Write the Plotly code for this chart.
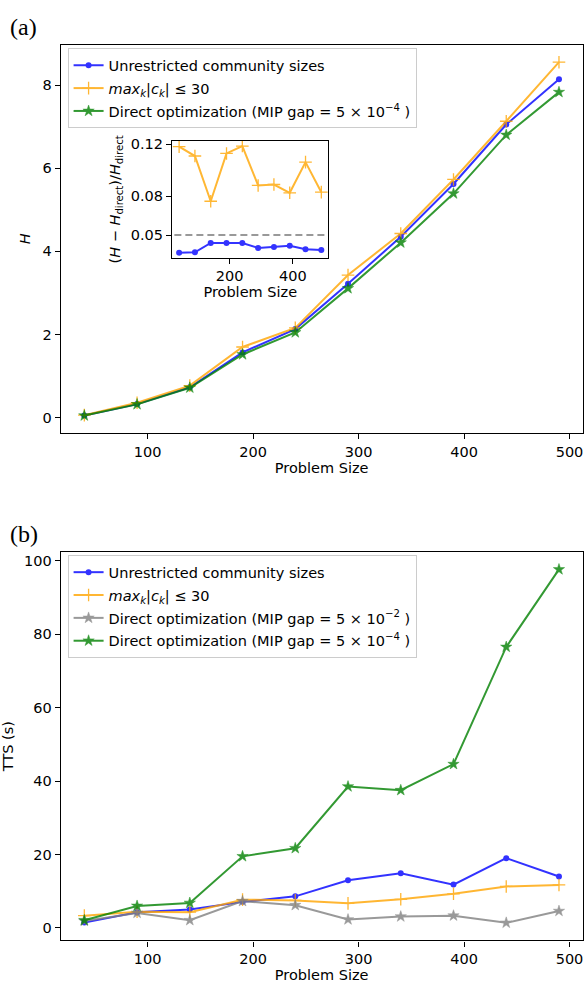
import plotly.graph_objects as go

# ---------------- data ----------------
sizes = [40, 90, 140, 190, 240, 290, 340, 390, 440, 490]

H_unrestricted = [0.05, 0.33, 0.73, 1.57, 2.13, 3.22, 4.35, 5.62, 7.05, 8.14]
H_max30 = [0.06, 0.36, 0.77, 1.70, 2.16, 3.43, 4.43, 5.73, 7.13, 8.55]
H_direct = [0.05, 0.32, 0.72, 1.52, 2.05, 3.11, 4.21, 5.39, 6.80, 7.83]

rel_unrestricted = [0.0364, 0.0367, 0.0439, 0.0439, 0.0439, 0.0400, 0.0408, 0.0418, 0.0390, 0.0385]
rel_max30 = [0.1182, 0.1110, 0.0761, 0.1130, 0.1187, 0.0883, 0.0890, 0.0826, 0.1063, 0.0831]
gap_threshold = 0.05

tts_unrestricted = [1.45, 4.3, 5.0, 7.1, 8.6, 13.0, 14.9, 11.8, 19.0, 14.0]
tts_max30 = [3.35, 4.4, 4.3, 7.7, 7.5, 6.7, 7.8, 9.3, 11.3, 11.7]
tts_direct_gap2 = [1.9, 4.1, 2.1, 7.3, 6.2, 2.3, 3.1, 3.35, 1.4, 4.6]
tts_direct_gap4 = [2.1, 6.0, 6.8, 19.5, 21.7, 38.5, 37.5, 44.6, 76.5, 97.6]

x_ticks = [100, 200, 300, 400, 500]
h_ticks = [0, 2, 4, 6, 8]
tts_ticks = [0, 20, 40, 60, 80, 100]
inset_x_ticks = [200, 400]
inset_y_ticks = [0.05, 0.08, 0.12]
inset_y_labels = ["0.05", "0.08", "0.12"]

name_unres = "Unrestricted community sizes"
name_max30 = "<i>max</i><sub><i>k</i></sub>|<i>c</i><sub><i>k</i></sub>| ≤ 30"
name_gap2 = "Direct optimization (MIP gap = 5 × 10<sup>−2</sup> )"
name_gap4 = "Direct optimization (MIP gap = 5 × 10<sup>−4</sup> )"

# ---------------- style ----------------
FONT = "DejaVu Sans"
FS = 14.5
W, Hh = 586, 984
BLUE, ORANGE, GRAY, GREEN = "#0000ff", "#ffa500", "#808080", "#008000"
OP = 0.8
LW = 2.0


def style(color, kind):
    if kind == "dot":
        return dict(line=dict(color=color, width=LW),
                    marker=dict(symbol="circle", size=6, color=color))
    if kind == "plus":
        return dict(line=dict(color=color, width=LW),
                    marker=dict(symbol="cross-thin", size=9, color=color,
                                line=dict(color=color, width=1.3)))
    return dict(line=dict(color=color, width=LW),
                marker=dict(symbol="star", size=8.5, color=color,
                            line=dict(color=color, width=0.5)))


fig = go.Figure()

# panel (a)
for y, name, color, kind, grp in [
    (H_unrestricted, name_unres, BLUE, "dot", "a1"),
    (H_max30, name_max30, ORANGE, "plus", "a2"),
    (H_direct, name_gap4, GREEN, "star", "a3"),
]:
    fig.add_trace(go.Scatter(x=sizes, y=y, mode="lines+markers", name=name,
                             opacity=OP, xaxis="x", yaxis="y", legend="legend",
                             legendgroup=grp, **style(color, kind)))

# inset
fig.add_trace(go.Scatter(x=[sizes[0] - 15, sizes[-1] + 15], y=[gap_threshold, gap_threshold],
                         mode="lines", line=dict(color=GRAY, width=2, dash="7px,4px"),
                         opacity=OP, xaxis="x3", yaxis="y3", showlegend=False))
fig.add_trace(go.Scatter(x=sizes, y=rel_unrestricted, mode="lines+markers", opacity=OP,
                         xaxis="x3", yaxis="y3", showlegend=False, **style(BLUE, "dot")))
fig.add_trace(go.Scatter(x=sizes, y=rel_max30, mode="lines+markers", opacity=OP,
                         xaxis="x3", yaxis="y3", showlegend=False, **style(ORANGE, "plus")))

# panel (b)
for y, name, color, kind, grp in [
    (tts_unrestricted, name_unres, BLUE, "dot", "b1"),
    (tts_max30, name_max30, ORANGE, "plus", "b2"),
    (tts_direct_gap2, name_gap2, GRAY, "star", "b3"),
    (tts_direct_gap4, name_gap4, GREEN, "star", "b4"),
]:
    fig.add_trace(go.Scatter(x=sizes, y=y, mode="lines+markers", name=name,
                             opacity=OP, xaxis="x2", yaxis="y2", legend="legend2",
                             legendgroup=grp, **style(color, kind)))

axis_common = dict(showline=True, linecolor="black", linewidth=1.1, mirror=True,
                   ticks="outside", ticklen=5, tickwidth=1.1, tickcolor="black",
                   showgrid=False, zeroline=False,
                   tickfont=dict(family=FONT, size=FS, color="black"))
title_font = dict(family=FONT, size=FS, color="black")

xdom = [60.7 / W, 583.7 / W]
xr = [17.5, 512.5]

fig.update_layout(
    width=W, height=Hh,
    margin=dict(l=0, r=0, t=0, b=0),
    paper_bgcolor="white", plot_bgcolor="white",
    font=dict(family=FONT, size=FS, color="black"),
    xaxis=dict(domain=xdom, range=xr, tickvals=x_ticks, anchor="y",
               title=dict(text="Problem Size", font=title_font, standoff=3), **axis_common),
    yaxis=dict(domain=[1 - 431 / Hh, 1 - 40.7 / Hh], range=[-0.375, 8.975], tickvals=h_ticks,
               anchor="x", title=dict(text="<i>H</i>", font=title_font, standoff=8), **axis_common),
    xaxis2=dict(domain=xdom, range=xr, tickvals=x_ticks, anchor="y2",
                title=dict(text="Problem Size", font=title_font, standoff=3), **axis_common),
    yaxis2=dict(domain=[1 - 940.3 / Hh, 1 - 550 / Hh], range=[-3.41, 102.41], tickvals=tts_ticks,
                anchor="x2", title=dict(text="TTS (s)", font=title_font, standoff=8), **axis_common),
    xaxis3=dict(domain=[172.3 / W, 329 / W], range=xr, tickvals=inset_x_ticks, anchor="y3",
                title=dict(text="Problem Size", font=title_font, standoff=3), **axis_common),
    yaxis3=dict(domain=[1 - 255 / Hh, 1 - 137.3 / Hh], range=[0.0323, 0.1228],
                tickvals=inset_y_ticks, ticktext=inset_y_labels, anchor="x3",
                title=dict(text="(<i>H</i> − <i>H</i><sub>direct</sub>)/<i>H</i><sub>direct</sub>",
                           font=title_font, standoff=6), **axis_common),
    legend=dict(x=67.7 / W, y=1 - 44.5 / Hh, xanchor="left", yanchor="top",
                bgcolor="rgba(255,255,255,0.8)", bordercolor="#cccccc", borderwidth=1,
                font=dict(family=FONT, size=FS, color="black"), tracegroupgap=1),
    legend2=dict(x=67.7 / W, y=1 - 553.5 / Hh, xanchor="left", yanchor="top",
                 bgcolor="rgba(255,255,255,0.8)", bordercolor="#cccccc", borderwidth=1,
                 font=dict(family=FONT, size=FS, color="black"), tracegroupgap=1),
    annotations=[
        dict(text="(a)", x=24 / W, y=1 - 23 / Hh, xref="paper", yref="paper",
             xanchor="center", yanchor="middle", showarrow=False,
             font=dict(family="Liberation Serif", size=24, color="black")),
        dict(text="(b)", x=24 / W, y=1 - 531.7 / Hh, xref="paper", yref="paper",
             xanchor="center", yanchor="middle", showarrow=False,
             font=dict(family="Liberation Serif", size=24, color="black")),
    ],
)

fig.write_html("out.html")
